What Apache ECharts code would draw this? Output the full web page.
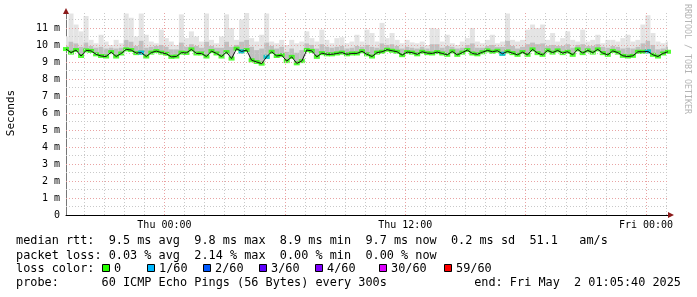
<!DOCTYPE html>
<html><head><meta charset="utf-8">
<script src="https://cdn.jsdelivr.net/npm/echarts@6/dist/echarts.min.js"></script>
<style>html,body{margin:0;padding:0;background:#fff}#c{width:697px;height:297px}</style>
</head><body><div id="c"></div>
<script>
// time in hours relative to Thu 00:00; one sample every 15 minutes
const START = -4.9056, STEP = 0.25;
// median RTT (ms)
const median = [
9.76,9.55,9.7,9.35,9.68,9.65,9.45,9.35,9.32,9.58,
9.32,9.5,9.74,9.7,9.52,9.55,9.32,9.55,9.64,9.55,
9.48,9.3,9.32,9.55,9.53,9.74,9.5,9.5,9.32,9.64,
9.5,9.32,9.58,9.2,9.78,9.62,9.7,9.1,9.0,8.9,
9.3,9.6,9.35,9.4,9.05,9.3,8.92,9.05,9.7,9.65,
9.3,9.52,9.45,9.45,9.5,9.55,9.45,9.5,9.5,9.63,
9.45,9.32,9.55,9.6,9.72,9.66,9.6,9.4,9.58,9.55,
9.45,9.6,9.52,9.5,9.58,9.5,9.42,9.62,9.42,9.55,
9.7,9.5,9.45,9.57,9.68,9.6,9.66,9.48,9.62,9.52,
9.42,9.58,9.42,9.74,9.52,9.42,9.68,9.55,9.68,9.52,
9.6,9.42,9.74,9.52,9.68,9.55,9.74,9.52,9.42,9.65,
9.55,9.36,9.32,9.36,9.6,9.6,9.62,9.42,9.32,9.5,
9.6];
// upper edge of the dense smoke (ms)
const smokeMid = [
9.95,10.2,10.1,9.9,10.15,9.95,9.85,9.9,9.8,9.85,
9.8,9.85,10.3,10.2,9.95,10.25,9.85,9.9,9.95,10.0,
9.9,9.75,9.75,10.15,9.9,10.05,9.95,9.85,10.2,9.95,
9.85,9.85,10.2,9.9,10.0,10.2,10.3,9.9,9.7,9.8,
10.15,9.95,9.8,9.9,9.6,9.8,9.55,9.7,10.1,10.0,
9.8,10.05,9.9,9.85,9.9,9.95,9.8,9.85,9.95,9.9,
10.0,9.9,9.85,10.1,10.0,10.05,9.95,9.8,9.9,9.85,
9.8,9.9,9.8,10.05,10.05,9.85,9.95,9.9,9.8,9.85,
10.0,10.1,9.85,9.85,9.95,10.0,9.9,9.9,10.25,9.95,
9.8,9.9,10.05,10.15,10.05,10.1,9.95,10.0,9.95,9.95,
10.05,9.85,10.0,10.05,9.95,9.95,10.05,9.9,9.85,9.95,
9.9,9.8,9.85,9.8,9.9,10.1,10.25,10.0,9.75,9.8,
9.9];
// max ping of each sample (ms)
const smokeMax = [
10.5,11.85,11.2,10.8,11.7,10.3,10.1,10.6,10.2,10.0,
10.3,10.1,11.85,11.6,10.5,11.85,10.6,10.2,10.1,10.9,
10.4,10.2,10.0,11.8,10.4,10.8,10.5,10.2,11.85,10.3,
10.1,10.5,11.8,11.0,10.3,11.5,11.88,10.4,10.2,10.6,
11.85,10.2,10.1,10.3,10.0,10.3,10.1,10.2,10.8,10.4,
10.2,10.9,10.3,10.1,10.4,10.45,10.1,10.2,10.6,10.2,
10.9,10.7,10.2,11.3,10.4,10.7,10.3,10.1,10.3,10.15,
10.1,10.2,10.0,11.0,10.95,10.2,10.6,10.1,10.0,10.2,
10.4,11.0,10.2,10.1,10.3,10.6,10.1,10.2,11.85,10.3,
10.2,10.3,10.9,11.2,11.0,11.2,10.3,10.7,10.2,10.4,
10.8,10.3,10.2,10.9,10.2,10.3,10.6,10.1,10.3,10.3,
10.2,10.4,10.6,10.2,10.3,11.2,11.75,10.7,10.2,10.1,
10.2];
// samples with 1/60 loss
const lossIdx = [15,35,40,87,116];

const xLabelHours = [0,12,24];
const xLabels = ['Thu 00:00','Thu 12:00','Fri 00:00'];
const yTicks = [0,1,2,3,4,5,6,7,8,9,10,11];

const legendLine1 = 'median rtt:  9.5 ms avg  9.8 ms max  8.9 ms min  9.7 ms now  0.2 ms sd  51.1   am/s';
const legendLine2 = 'packet loss: 0.03 % avg  2.14 % max  0.00 % min  0.00 % now';
const legendLine4a = 'probe:      60 ICMP Echo Pings (56 Bytes) every 300s';
const legendLine4b = 'end: Fri May  2 01:05:40 2025';
const lossLabels = ['0','1/60','2/60','3/60','4/60','30/60','59/60'];
const lossColors = ['#26ff00','#00b8ff','#0059ff','#5e00ff','#7e00ff','#dd00ff','#ff0000'];
const lossBoxX = [102,147,203,259,315,379,444];

const END = START + (median.length - 1) * STEP;
const times = median.map((_, i) => START + i * STEP);
const pBase = times.map((t, i) => [t, median[i]]);
const pSmoke = times.map((t, i) => [t, median[i], Math.max(smokeMid[i], median[i]), Math.max(smokeMax[i], smokeMid[i], median[i])]);
const pLoss = lossIdx.map(i => [times[i], median[i]]);

const MONO = 'DejaVu Sans Mono';
const RED = '#e9a3a3', GREY = '#c9c9c9';
const gridMarks = [];
for (let h = Math.ceil(START); h <= END; h++) {
  const major = h % 6 === 0;
  gridMarks.push({xAxis: h, lineStyle: {color: major ? RED : GREY, type: [1,2], width: 1}});
}
for (let v = 0.5; v < 11.9; v += 0.5) {
  const major = Math.abs(v - Math.round(v)) < 1e-6;
  gridMarks.push({yAxis: v, lineStyle: {color: major ? RED : GREY, type: [1,2], width: 1}});
}

function renderSmoke(params, api) {
  const t = api.value(0), med = api.value(1), mid = api.value(2), mx = api.value(3);
  const a = api.coord([t - STEP / 2, mx]);
  const b = api.coord([t + STEP / 2, mid]);
  const c = api.coord([t - STEP / 2, mid]);
  const d = api.coord([t + STEP / 2, med]);
  return {type:'group', children:[
    {type:'rect', shape:{x:a[0], y:a[1], width:b[0]-a[0], height:b[1]-a[1]}, style:{fill:'#e4e4e4'}},
    {type:'rect', shape:{x:c[0], y:c[1], width:d[0]-c[0], height:d[1]-c[1]}, style:{fill:'#c0c0c0'}}
  ]};
}

const graphics = [
  {type:'polygon', shape:{points:[[63,14],[69,14],[66,8]]}, style:{fill:'#8b1a1a'}, z:100},
  {type:'polygon', shape:{points:[[668,212],[668,218],[674,215]]}, style:{fill:'#8b1a1a'}, z:100},
  {type:'text', x:11, y:113, rotation:Math.PI/2, style:{text:'Seconds', font:'11px ' + MONO, fill:'#000', align:'center', verticalAlign:'middle'}},
  {type:'text', x:687, y:59, rotation:-Math.PI/2, style:{text:'RRDTOOL / TOBI OETIKER', font:'8.3px ' + MONO, fill:'#b4b4b4', align:'center', verticalAlign:'middle'}},
  {type:'text', x:16, y:241, style:{text:legendLine1, font:'11.85px ' + MONO, fill:'#000', verticalAlign:'middle'}},
  {type:'text', x:16, y:255.5, style:{text:legendLine2, font:'11.85px ' + MONO, fill:'#000', verticalAlign:'middle'}},
  {type:'text', x:16, y:269, style:{text:'loss color:', font:'11.85px ' + MONO, fill:'#000', verticalAlign:'middle'}},
  {type:'text', x:16, y:283, style:{text:legendLine4a, font:'11.85px ' + MONO, fill:'#000', verticalAlign:'middle'}},
  {type:'text', x:681, y:283, style:{text:legendLine4b, font:'11.85px ' + MONO, fill:'#000', align:'right', verticalAlign:'middle'}}
];
lossLabels.forEach((lab, k) => {
  graphics.push({type:'rect', shape:{x:lossBoxX[k]+0.5, y:264.5, width:7, height:7}, style:{fill:lossColors[k], stroke:'#000', lineWidth:1}});
  graphics.push({type:'text', x:lossBoxX[k]+12, y:269, style:{text:lab, font:'11.85px ' + MONO, fill:'#000', verticalAlign:'middle'}});
});

const chart = echarts.init(document.getElementById('c'), null, {renderer:'canvas'});
chart.setOption({
  animation: false,
  backgroundColor: '#fff',
  grid: {left:66, right:29, top:13, bottom:82, containLabel:false},
  xAxis: {
    type:'value', min:START, max:END,
    axisLine:{show:true, onZero:false, lineStyle:{color:'#000', width:1}},
    axisTick:{show:false},
    splitLine:{show:false},
    axisLabel:{
      customValues: xLabelHours,
      formatter: v => { const k = xLabelHours.indexOf(Math.round(v)); return k >= 0 && Math.abs(v - Math.round(v)) < 1e-6 ? xLabels[k] : ''; },
      color:'#000', fontFamily:MONO, fontSize:10, margin:5, showMinLabel:true, showMaxLabel:true
    }
  },
  yAxis: {
    type:'value', min:0, max:11.88, interval:1,
    axisLine:{show:true, onZero:false, lineStyle:{color:'#777', width:1}},
    axisTick:{show:false},
    splitLine:{show:false},
    axisLabel:{
      customValues: yTicks,
      formatter: v => v === 0 ? '0' : v + ' m',
      color:'#000', fontFamily:MONO, fontSize:10, margin:6
    }
  },
  series: [
    {type:'line', data:[[START,0]], symbol:'none', lineStyle:{opacity:0}, silent:true, z:1,
     markLine:{silent:true, symbol:['none','none'], label:{show:false}, emphasis:{disabled:true}, animation:false, data:gridMarks}},
    {type:'custom', data:pSmoke, renderItem:renderSmoke, encode:{x:0, y:[1,2,3]}, silent:true, z:2, clip:true},
    {type:'scatter', data:pBase, symbol:'rect', symbolSize:[6,4], itemStyle:{color:'#26ff00'}, silent:true, z:3},
    {type:'scatter', data:pLoss, symbol:'rect', symbolSize:[6,4], itemStyle:{color:'#00b8ff'}, silent:true, z:4},
    {type:'line', data:pBase, symbol:'none', lineStyle:{color:'#111', width:1}, silent:true, z:5}
  ],
  graphic: graphics
});
</script></body></html>
